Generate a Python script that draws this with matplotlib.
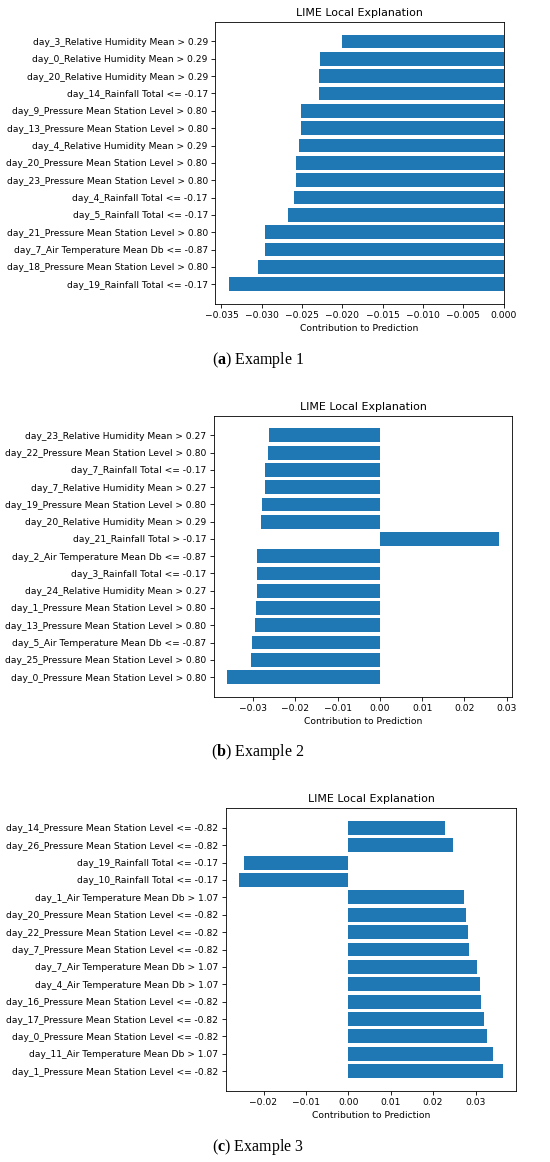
import matplotlib
matplotlib.use("Agg")
import matplotlib.pyplot as plt

# dados (de cima para baixo)
labels_a = [
    "day_3_Relative Humidity Mean > 0.29",
    "day_0_Relative Humidity Mean > 0.29",
    "day_20_Relative Humidity Mean > 0.29",
    "day_14_Rainfall Total <= -0.17",
    "day_9_Pressure Mean Station Level > 0.80",
    "day_13_Pressure Mean Station Level > 0.80",
    "day_4_Relative Humidity Mean > 0.29",
    "day_20_Pressure Mean Station Level > 0.80",
    "day_23_Pressure Mean Station Level > 0.80",
    "day_4_Rainfall Total <= -0.17",
    "day_5_Rainfall Total <= -0.17",
    "day_21_Pressure Mean Station Level > 0.80",
    "day_7_Air Temperature Mean Db <= -0.87",
    "day_18_Pressure Mean Station Level > 0.80",
    "day_19_Rainfall Total <= -0.17",
]
values_a = [-0.0201, -0.0228, -0.0229, -0.0229, -0.0251, -0.0252, -0.0254,
            -0.0257, -0.0257, -0.0260, -0.0267, -0.0296, -0.0296, -0.0305, -0.0341]

labels_b = [
    "day_23_Relative Humidity Mean > 0.27",
    "day_22_Pressure Mean Station Level > 0.80",
    "day_7_Rainfall Total <= -0.17",
    "day_7_Relative Humidity Mean > 0.27",
    "day_19_Pressure Mean Station Level > 0.80",
    "day_20_Relative Humidity Mean > 0.29",
    "day_21_Rainfall Total > -0.17",
    "day_2_Air Temperature Mean Db <= -0.87",
    "day_3_Rainfall Total <= -0.17",
    "day_24_Relative Humidity Mean > 0.27",
    "day_1_Pressure Mean Station Level > 0.80",
    "day_13_Pressure Mean Station Level > 0.80",
    "day_5_Air Temperature Mean Db <= -0.87",
    "day_25_Pressure Mean Station Level > 0.80",
    "day_0_Pressure Mean Station Level > 0.80",
]
values_b = [-0.0263, -0.0264, -0.0271, -0.0272, -0.0278, -0.0282, 0.0281,
            -0.0291, -0.0291, -0.0291, -0.0293, -0.0296, -0.0303, -0.0306, -0.0361]

labels_c = [
    "day_14_Pressure Mean Station Level <= -0.82",
    "day_26_Pressure Mean Station Level <= -0.82",
    "day_19_Rainfall Total <= -0.17",
    "day_10_Rainfall Total <= -0.17",
    "day_1_Air Temperature Mean Db > 1.07",
    "day_20_Pressure Mean Station Level <= -0.82",
    "day_22_Pressure Mean Station Level <= -0.82",
    "day_7_Pressure Mean Station Level <= -0.82",
    "day_7_Air Temperature Mean Db > 1.07",
    "day_4_Air Temperature Mean Db > 1.07",
    "day_16_Pressure Mean Station Level <= -0.82",
    "day_17_Pressure Mean Station Level <= -0.82",
    "day_0_Pressure Mean Station Level <= -0.82",
    "day_11_Air Temperature Mean Db > 1.07",
    "day_1_Pressure Mean Station Level <= -0.82",
]
values_c = [0.0227, 0.0247, -0.0247, -0.0258, 0.0273, 0.0278, 0.0282, 0.0285,
            0.0304, 0.0310, 0.0314, 0.0319, 0.0328, 0.0342, 0.0365]

captions = ["a", "b", "c"]

plt.rcParams["mathtext.fontset"] = "custom"
plt.rcParams["mathtext.rm"] = "Liberation Serif"
plt.rcParams["mathtext.bf"] = "Liberation Serif:bold"

W, H = 550, 1162
fig = plt.figure(figsize=(W / 100, H / 100), dpi=100)

# caixas dos eixos em pixels: esquerda, topo, direita, base
boxes = [(215, 21.7, 503.7, 304), (213.7, 415.7, 512.3, 696.7), (225.7, 808, 516.3, 1091)]
caption_y = [360, 752, 1147]

FS = 6.6

def lime_panel(box, labels, values):
    l, t, r, b = box
    ax = fig.add_axes([l / W, 1 - b / H, (r - l) / W, (b - t) / H])
    ypos = list(range(len(labels)))
    ax.barh(ypos, values[::-1], color="#1f77b4", height=0.8)
    ax.set_yticks(ypos)
    ax.set_yticklabels(labels[::-1], fontsize=FS)
    ax.tick_params(axis="x", labelsize=FS, length=2.6, width=0.6, pad=2.6)
    ax.tick_params(axis="y", length=2.6, width=0.6, pad=2.6)
    for s in ax.spines.values():
        s.set_linewidth(0.6)
    ax.set_title("LIME Local Explanation", fontsize=7.9, pad=4)
    ax.set_xlabel("Contribution to Prediction", fontsize=FS, labelpad=3)
    return ax

lime_panel(boxes[0], labels_a, values_a)
lime_panel(boxes[1], labels_b, values_b)
lime_panel(boxes[2], labels_c, values_c)

for i, letter in enumerate(captions):
    fig.text(258 / W, 1 - caption_y[i] / H, r"($\mathbf{" + letter + r"}$) Example " + str(i + 1),
             ha="center", va="center", fontsize=11.5, family="Liberation Serif")

fig.savefig("out.png", dpi=100)
